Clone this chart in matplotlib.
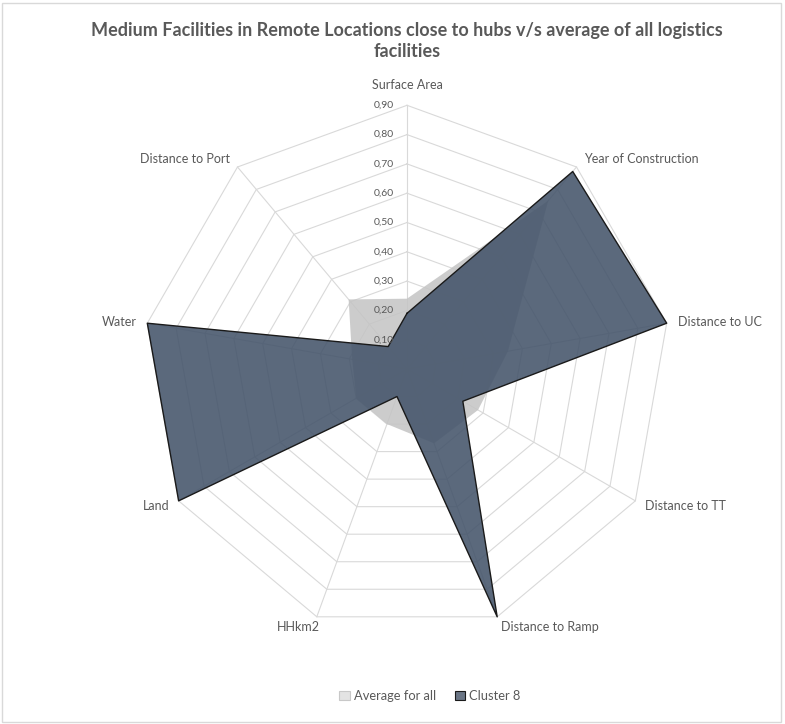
import numpy as np
import matplotlib
matplotlib.use("Agg")
import matplotlib.pyplot as plt
from matplotlib.patches import Patch, Rectangle

plt.rcParams['font.family'] = ['Lato', 'DejaVu Sans']

# radar categories, clockwise from the top
categories = ['Surface Area', 'Year of Construction', 'Distance to UC', 'Distance to TT',
              'Distance to Ramp', 'HHkm2', 'Land', 'Water', 'Distance to Port']
average_all = [0.24, 0.75, 0.35, 0.28, 0.27, 0.20, 0.20, 0.19, 0.31]
cluster_8 = [0.19, 0.88, 0.90, 0.22, 0.90, 0.10, 0.90, 0.90, 0.10]
ring_levels = [0.1, 0.2, 0.3, 0.4, 0.5, 0.6, 0.7, 0.8, 0.9]
ring_labels = ['0,10', '0,20', '0,30', '0,40', '0,50', '0,60', '0,70', '0,80', '0,90']

title = 'Medium Facilities in Remote Locations close to hubs v/s average of all logistics\nfacilities'
txt_col = '#595959'
grid_col = '#d9d9d9'

# label offsets in pixels from the outer vertex (dx, dy, ha)
label_pos = [(0, 20, 'center'), (8, 8, 'left'), (11, 1, 'left'), (10, -5, 'left'),
             (4, -10, 'left'), (-18, -10, 'center'), (-9, -5, 'right'),
             (-10, 1, 'right'), (-7, 8, 'right')]

W, H = 785, 724
fig = plt.figure(figsize=(W / 100, H / 100), dpi=100)

cx, cy, R = 407, 369, 263.7
ax = fig.add_axes([(cx - R) / W, (H - cy - R) / H, 2 * R / W, 2 * R / H], projection='polar')
ax.set_theta_zero_location('N')
ax.set_theta_direction(-1)
ax.set_ylim(0, 0.9)
ax.set_xticks([])
ax.set_yticks([])
ax.grid(False)
ax.spines['polar'].set_visible(False)
ax.patch.set_alpha(0)

n = len(categories)
angles = np.linspace(0, 2 * np.pi, n, endpoint=False)
closed = np.append(angles, angles[0])

# polygon grid
for lv in ring_levels:
    ax.plot(closed, [lv] * (n + 1), color=grid_col, lw=0.8, zorder=1, clip_on=False)
for a in angles:
    ax.plot([a, a], [0, ring_levels[-1]], color=grid_col, lw=0.8, zorder=1, clip_on=False)

avg = np.append(average_all, average_all[0])
c8 = np.append(cluster_8, cluster_8[0])
ax.fill(closed, avg, color='#c4c4c4', alpha=0.85, lw=0, zorder=2, clip_on=False)
ax.fill(closed, c8, color='#44546A', alpha=0.88, lw=0, zorder=3, clip_on=False)
ax.plot(closed, c8, color='#1a1a1a', lw=1.0, zorder=4, clip_on=False)

for lv, lab in zip(ring_levels, ring_labels):
    ax.annotate(lab, (0, lv), xytext=(-13, 0), textcoords='offset pixels',
                ha='right', va='center', fontsize=7.5, color=txt_col, zorder=5)

for a, lab, (dx, dy, ha) in zip(angles, categories, label_pos):
    ax.annotate(lab, (a, ring_levels[-1]), xytext=(dx, dy), textcoords='offset pixels',
                ha=ha, va='center', fontsize=9, color=txt_col, annotation_clip=False)

fig.text(407 / W, 1 - 41 / H, title, ha='center', va='center', fontsize=13,
         fontweight='bold', color=txt_col, linespacing=1.35)

handles = [Patch(facecolor='#e3e3e3', edgecolor='#c8c8c8', lw=0.8, label='Average for all'),
           Patch(facecolor='#6a7585', edgecolor='#1a1a1a', lw=0.8, label='Cluster 8')]
fig.legend(handles=handles, loc='center', bbox_to_anchor=(430 / W, 1 - 696 / H), ncol=2,
           frameon=False, fontsize=9.3, handlelength=0.8, handleheight=0.8,
           handletextpad=0.3, columnspacing=1.5, labelcolor=txt_col)

fig.add_artist(Rectangle((2 / W, 2 / H), 779 / W, 719 / H, transform=fig.transFigure,
                         fill=False, edgecolor=grid_col, lw=1))

fig.savefig('out.png', dpi=100)
